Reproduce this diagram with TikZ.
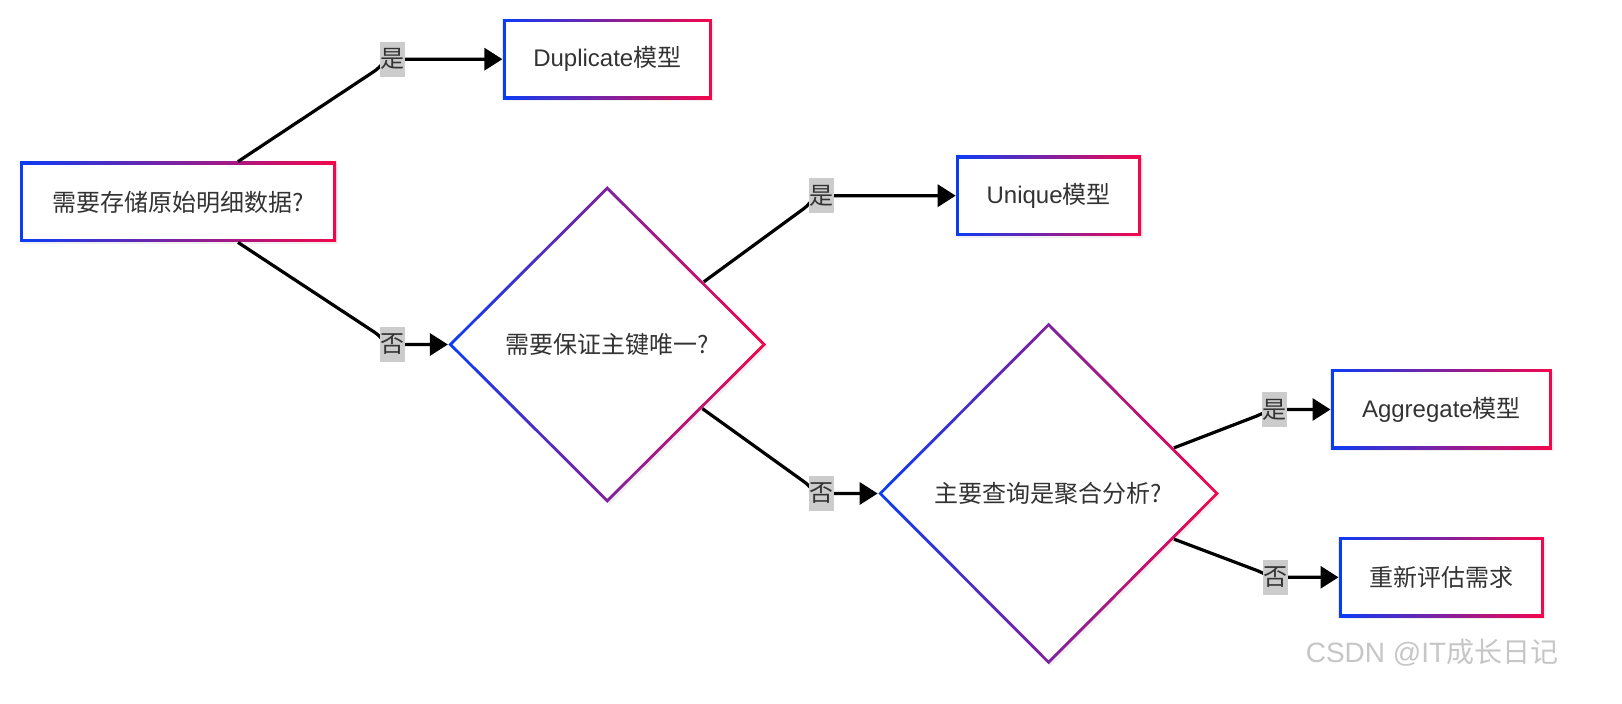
\documentclass[tikz,border=0pt]{standalone}
\usepackage{fontspec}
\setmainfont{Noto Sans CJK SC}
\newfontfamily\latin{Liberation Sans}
\usetikzlibrary{shapes.geometric,arrows.meta}
\usetikzlibrary{positioning}
\usetikzlibrary{shadows}
\definecolor{gradblue}{HTML}{0A3CF5}
\definecolor{gradred}{HTML}{F5064B}
\definecolor{textgray}{HTML}{333333}
\tikzstyle{gradient} = [left color=gradblue, right color=gradred, text=textgray,
    font=\fontsize{12pt}{14pt}\selectfont,
    drop shadow={shadow xshift=1pt, shadow yshift=-1pt, opacity=0.12}]
\tikzstyle{block} = [rectangle, gradient, minimum height=40pt, inner sep=0pt,
    path picture={\fill[white] ([shift={(1.5pt,-1.5pt)}]path picture bounding box.north west)
    rectangle ([shift={(-1.5pt,1.5pt)}]path picture bounding box.south east);}]
\tikzstyle{decision} = [diamond, gradient, inner sep=0pt,
    path picture={\fill[white] ([yshift=-2.1pt]path picture bounding box.north)
    -- ([xshift=-2.1pt]path picture bounding box.east)
    -- ([yshift=2.1pt]path picture bounding box.south)
    -- ([xshift=2.1pt]path picture bounding box.west) -- cycle;}]
\tikzstyle{answer} = [fill=gray!40, text=textgray, inner sep=0pt, minimum width=12.5pt,
    minimum height=17.5pt, font=\fontsize{12pt}{14pt}\selectfont]
\tikzstyle{line} = [draw, line width=1.6pt, -{Triangle[length=9pt,width=11pt]}]

\begin{document}
\begin{tikzpicture}[x=0.5pt, y=-0.5pt]
\useasboundingbox (0,0) rectangle (1622,704);
% Place nodes
\node [block, minimum width=158pt] (store) at (178,202) {需要存储原始明细数据?};
\node [block, minimum width=104.5pt, above right=31pt and 83pt of store] (duplicate)
{{\latin Duplicate}模型};

\node [decision, minimum width=159pt, minimum height=158.5pt, below=43pt of duplicate]
(keyunique) {需要保证主键唯一?};
\node [decision, minimum width=170.5pt, minimum height=171pt, right=55.5pt of keyunique,
yshift=-74.5pt] (aggquery) {主要查询是聚合分析?};

\node [block, minimum width=92.5pt, above=43pt of aggquery] (uniquemodel)
{{\latin Unique}模型};
\node [block, minimum width=110.5pt, right=55.5pt of aggquery, yshift=42pt] (aggmodel)
{{\latin Aggregate}模型};
\node [block, minimum width=102.5pt, below=43.5pt of aggmodel] (reeval) {重新评估需求};

\node [text=gray!45, font=\fontsize{14pt}{16pt}\selectfont] (mark) at (1432,653)
{{\latin CSDN @IT}成长日记};

% Label spots
\coordinate (yes1) at ([xshift=-55pt]duplicate.west);
\coordinate (no1) at ([xshift=-27.5pt]keyunique.west);
\coordinate (yes2) at ([xshift=-67pt]uniquemodel.west);
\coordinate (no2) at ([xshift=-28pt]aggquery.west);
\coordinate (yes3) at ([xshift=-28pt]aggmodel.west);
\coordinate (no3) at ([xshift=-31.5pt]reeval.west);

% Draw edges
\path [line] ([xshift=30pt]store.north) -- ([shift={(-9pt,-6pt)}]yes1)
  to[out=34, in=180] (yes1) -- (duplicate);
\path [line] ([xshift=30pt]store.south) -- ([shift={(-9pt,6pt)}]no1)
  to[out=-34, in=180] (no1) -- (keyunique);
\path [line] (keyunique.33) -- ([shift={(-9pt,-6.5pt)}]yes2)
  to[out=36, in=180] (yes2) -- (uniquemodel);
\path [line] (keyunique.-34) -- ([shift={(-9pt,6pt)}]no2)
  to[out=-34, in=180] (no2) -- (aggquery);
\path [line] (aggquery.20) -- ([shift={(-9pt,-3.3pt)}]yes3)
  to[out=20, in=180] (yes3) -- (aggmodel);
\path [line] (aggquery.-20) -- ([shift={(-9pt,3.3pt)}]no3)
  to[out=-20, in=180] (no3) -- (reeval);

\node [answer] (yes1label) at (yes1) {是};
\node [answer] (no1label) at (no1) {否};
\node [answer] (yes2label) at (yes2) {是};
\node [answer] (no2label) at (no2) {否};
\node [answer] (yes3label) at (yes3) {是};
\node [answer] (no3label) at (no3) {否};

\end{tikzpicture}
\end{document}
